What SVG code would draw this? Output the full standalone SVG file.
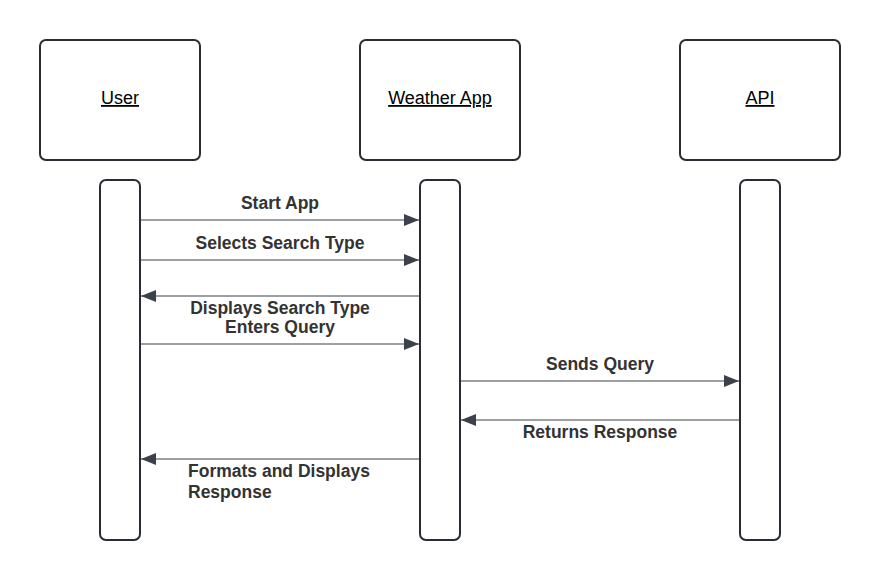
<svg xmlns="http://www.w3.org/2000/svg" width="880" height="580" viewBox="0 0 880 580">
<defs>
<style>
.box{fill:#fff;stroke:#282c33;stroke-width:2}
.title{font-family:"Liberation Sans",Arial,sans-serif;font-size:18px;fill:#000;text-decoration:underline;text-anchor:middle}
.msg{font-family:"Liberation Sans",Arial,sans-serif;font-size:17.5px;font-weight:bold;fill:#333}
.line{stroke:#3a414a;stroke-width:1.2;fill:none}
</style>
<marker id="ah" markerWidth="16" markerHeight="12" refX="15" refY="6" orient="auto" markerUnits="userSpaceOnUse">
<path d="M0,0 L15,6 L0,12 Z" fill="#3a414a"/>
</marker>
</defs>
<rect width="880" height="580" fill="#fff"/>
<g id="user">
<rect class="box" x="40" y="40" width="160" height="120" rx="6"/>
<text class="title" x="120" y="104">User</text>
<rect class="box" x="100" y="180" width="40" height="360" rx="6"/>
</g>
<g id="weather-app">
<rect class="box" x="360" y="40" width="160" height="120" rx="6"/>
<text class="title" x="440" y="104">Weather App</text>
<rect class="box" x="420" y="180" width="40" height="360" rx="6"/>
</g>
<g id="api">
<rect class="box" x="680" y="40" width="160" height="120" rx="6"/>
<text class="title" x="760" y="104">API</text>
<rect class="box" x="740" y="180" width="40" height="360" rx="6"/>
</g>
<g id="connectors">
<line class="line" x1="141" y1="220" x2="419" y2="220" marker-end="url(#ah)"/>
<text class="msg" x="280" y="209" text-anchor="middle">Start App</text>
<line class="line" x1="141" y1="260" x2="419" y2="260" marker-end="url(#ah)"/>
<text class="msg" x="280" y="249" text-anchor="middle">Selects Search Type</text>
<line class="line" x1="419" y1="296" x2="141" y2="296" marker-end="url(#ah)"/>
<text class="msg" x="280" y="314" text-anchor="middle">Displays Search Type</text>
<text class="msg" x="280" y="333" text-anchor="middle">Enters Query</text>
<line class="line" x1="141" y1="344" x2="419" y2="344" marker-end="url(#ah)"/>
<line class="line" x1="461" y1="381" x2="739" y2="381" marker-end="url(#ah)"/>
<text class="msg" x="600" y="370" text-anchor="middle">Sends Query</text>
<line class="line" x1="739" y1="420" x2="461" y2="420" marker-end="url(#ah)"/>
<text class="msg" x="600" y="438" text-anchor="middle">Returns Response</text>
<line class="line" x1="419" y1="459" x2="141" y2="459" marker-end="url(#ah)"/>
<text class="msg" x="188" y="477">Formats and Displays</text>
<text class="msg" x="188" y="498">Response</text>
</g>
</svg>
